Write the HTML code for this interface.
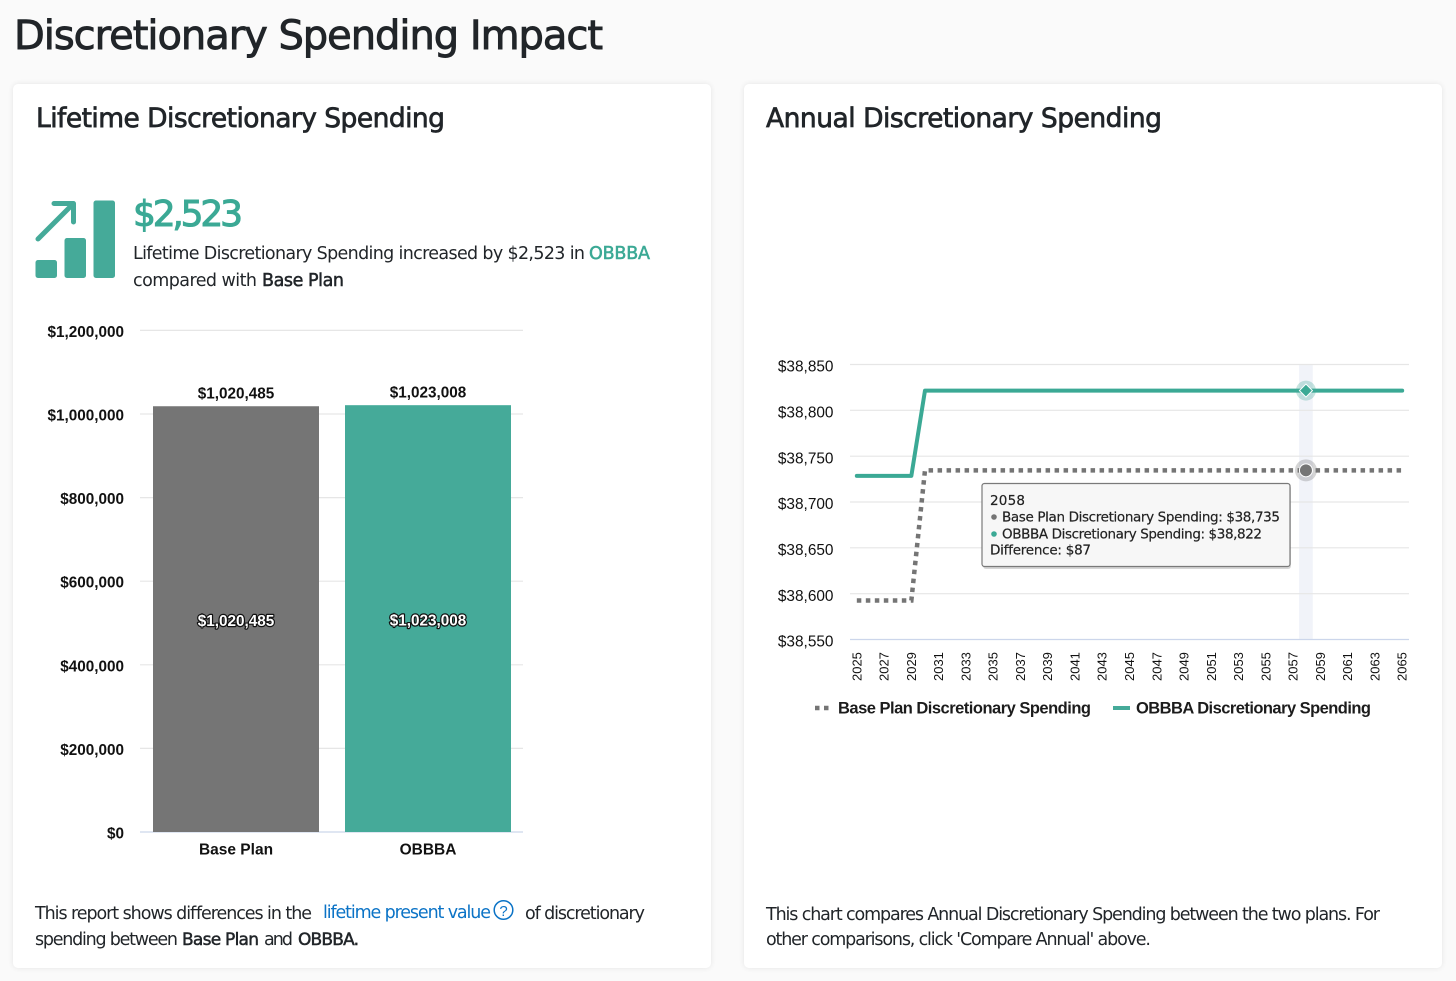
<!DOCTYPE html>
<html lang="en">
<head>
<meta charset="utf-8">
<title>Discretionary Spending Impact</title>
<style>
html,body{margin:0;padding:0;width:1456px;height:981px;overflow:hidden;background:#fafafa}
.card{position:absolute;top:84px;width:698px;height:884px;background:#fff;border-radius:5px;box-shadow:0 0 6px rgba(0,0,0,.09)}
svg{position:absolute;left:0;top:0}
.open{font-family:"DejaVu Sans",sans-serif;fill:#212529}
.semi{stroke-width:.5px;stroke:currentColor;color:#212529}
.arial{font-family:"Liberation Sans",Arial,sans-serif}
</style>
</head>
<body>
<div class="card" style="left:13px"></div>
<div class="card" style="left:744px"></div>
<svg id="page" width="1456" height="981" viewBox="0 0 1456 981" xmlns="http://www.w3.org/2000/svg">
  <text class="open" x="14" y="49" font-size="40" textLength="589" lengthAdjust="spacing" stroke="#212529" stroke-width=".9">Discretionary Spending Impact</text>
  <text class="open" x="36" y="127" font-size="26.5" textLength="409" lengthAdjust="spacing" stroke="#212529" stroke-width=".7">Lifetime Discretionary Spending</text>
  <text class="open" x="766" y="127" font-size="26.5" textLength="396" lengthAdjust="spacing" stroke="#212529" stroke-width=".7">Annual Discretionary Spending</text>

  <g fill="#45aa99">
    <rect x="35.5" y="260" width="21.5" height="18" rx="2.5"/>
    <rect x="64.5" y="238" width="21.5" height="40" rx="2.5"/>
    <rect x="93.5" y="200.500" width="21.5" height="77.500" rx="2.5"/>
    <path d="M38 239L73 204M54 203.500H73.500V222" fill="none" stroke="#45aa99" stroke-width="5" stroke-linecap="round" stroke-linejoin="round"/>
  </g>
  <text x="133" y="226" font-family="DejaVu Sans, sans-serif" font-size="36" fill="#3ba995" stroke="#3ba995" stroke-width="1" textLength="110" lengthAdjust="spacing">$2,523</text>
  <text class="open" x="133" y="259" font-size="17.5" textLength="452" lengthAdjust="spacing">Lifetime Discretionary Spending increased by $2,523 in</text>
  <text x="589" y="259" font-family="DejaVu Sans, sans-serif" font-size="17.5" fill="#3ba995" stroke="#3ba995" stroke-width=".55" textLength="61" lengthAdjust="spacing">OBBBA</text>
  <text class="open" x="133" y="286" font-size="17.5" textLength="124" lengthAdjust="spacing">compared with</text>
  <text class="open semi" x="262" y="286" font-size="17.5" textLength="82" lengthAdjust="spacing">Base Plan</text>

  <g id="left-chart"></g>
  <g id="right-chart"></g>

  <g>
    <g>
      <line x1="815" y1="708" x2="830" y2="708" stroke="#757575" stroke-width="4.500" stroke-dasharray="4.500 4.500"/>
      <text class="arial" x="838" y="713.500" font-size="16.500" font-weight="700" fill="#1c1c1c" textLength="253" lengthAdjust="spacing">Base Plan Discretionary Spending</text>
    </g>
    <g>
      <line x1="1113" y1="708" x2="1130" y2="708" stroke="#45aa99" stroke-width="4"/>
      <text class="arial" x="1136" y="713.500" font-size="16.500" font-weight="700" fill="#1c1c1c" textLength="235" lengthAdjust="spacing">OBBBA Discretionary Spending</text>
    </g>
  </g>

  <text class="open" x="35" y="919" font-size="17.5" textLength="277" lengthAdjust="spacing">This report shows differences in the</text>
  <text x="323" y="918" font-family="DejaVu Sans, sans-serif" font-size="17.5" fill="#0b73c6" textLength="168" lengthAdjust="spacing">lifetime present value</text>
  <g>
    <circle cx="503.500" cy="910" r="9.300" fill="none" stroke="#0b73c6" stroke-width="1.500"/>
    <text x="503.500" y="916" text-anchor="middle" font-family="Liberation Sans, sans-serif" font-size="15" fill="#0b73c6">?</text>
  </g>
  <text class="open" x="525" y="919" font-size="17.5" textLength="120" lengthAdjust="spacing">of discretionary</text>
  <text class="open" x="35" y="945" font-size="17.5" textLength="143" lengthAdjust="spacing">spending between</text>
  <text class="open semi" x="182" y="945" font-size="17" textLength="77" lengthAdjust="spacing">Base Plan</text>
  <text class="open" x="264" y="945" font-size="17.5" textLength="29" lengthAdjust="spacing">and</text>
  <text class="open semi" x="298" y="945" font-size="17" textLength="61" lengthAdjust="spacing">OBBBA.</text>
  <text class="open" x="766" y="920" font-size="17.5" textLength="614" lengthAdjust="spacing">This chart compares Annual Discretionary Spending between the two plans. For</text>
  <text class="open" x="766" y="945" font-size="17.5" textLength="385" lengthAdjust="spacing">other comparisons, click 'Compare Annual' above.</text>
</svg>

<script>
// ---- Bar chart data ----
var barCategories = ['Base Plan', 'OBBBA'];
var barValues = [1020485, 1023008];
var barTicks = [0, 200000, 400000, 600000, 800000, 1000000, 1200000];
var barTickLabels = ['$0', '$200,000', '$400,000', '$600,000', '$800,000', '$1,000,000', '$1,200,000'];
var barValueLabels = ['$1,020,485', '$1,023,008'];

// ---- Line chart data ----
var years = [2025,2026,2027,2028,2029,2030,2031,2032,2033,2034,2035,2036,2037,2038,2039,2040,2041,2042,2043,2044,2045,2046,2047,2048,2049,2050,2051,2052,2053,2054,2055,2056,2057,2058,2059,2060,2061,2062,2063,2064,2065];
var basePlanValues = [38593,38593,38593,38593,38593,38735,38735,38735,38735,38735,38735,38735,38735,38735,38735,38735,38735,38735,38735,38735,38735,38735,38735,38735,38735,38735,38735,38735,38735,38735,38735,38735,38735,38735,38735,38735,38735,38735,38735,38735,38735];
var obbbaValues = [38729,38729,38729,38729,38729,38822,38822,38822,38822,38822,38822,38822,38822,38822,38822,38822,38822,38822,38822,38822,38822,38822,38822,38822,38822,38822,38822,38822,38822,38822,38822,38822,38822,38822,38822,38822,38822,38822,38822,38822,38822];
var lineTicks = [38550, 38600, 38650, 38700, 38750, 38800, 38850];
var lineTickLabels = ['$38,550', '$38,600', '$38,650', '$38,700', '$38,750', '$38,800', '$38,850'];
var xTickYears = [2025,2027,2029,2031,2033,2035,2037,2039,2041,2043,2045,2047,2049,2051,2053,2055,2057,2059,2061,2063,2065];
var hoverYear = 2058;

var SVGNS = 'http://www.w3.org/2000/svg';
function make(parent, tag, attrs, txt) {
  var el = document.createElementNS(SVGNS, tag);
  for (var k in attrs) el.setAttribute(k, attrs[k]);
  if (txt !== undefined) el.textContent = txt;
  parent.appendChild(el);
  return el;
}
function money(v) { return '$' + String(v).replace(/\B(?=(\d{3})+$)/g, ','); }

// ---- Bar chart ----
(function () {
  var g = document.getElementById('left-chart');
  var plotL = 140, plotR = 523, y0 = 832, pxPerUnit = 418 / 1000000;
  var sans = '"Liberation Sans", Arial, sans-serif';
  function yScale(v) { return y0 - v * pxPerUnit; }
  var bandW = 192;
  var firstBand = 140;
  barTicks.forEach(function (t, i) {
    var y = yScale(t);
    var line = make(g, 'line', {x1: plotL, x2: plotR, y1: y, y2: y, stroke: t === 0 ? '#ccd6eb' : '#e6e6e6', 'stroke-width': 1.2});
    
    
    var lab = make(g, 'text', {x: 124, y: y + 6.5, 'text-anchor': 'end', 'font-family': sans, 'font-size': 15.3, 'font-weight': 700, fill: '#111'}, barTickLabels[i]);
    
    
  });
  var colors = ['#757575', '#45aa99'];
  barValues.forEach(function (v, i) {
    var cx = firstBand + bandW * i + 96;
    var top = yScale(v) + 0.8;
    var bar = make(g, 'rect', {x: cx - 83, y: top, width: 166, height: y0 - top, fill: colors[i]});
    
    
    var above = make(g, 'text', {x: cx, y: top - 7.5, 'text-anchor': 'middle', 'font-family': sans, 'font-size': 15.3, 'font-weight': 700, fill: '#111'}, barValueLabels[i]);
    
    
    var inner = make(g, 'text', {x: cx, y: (top + y0) / 2 + 7, 'text-anchor': 'middle', 'font-family': sans, 'font-size': 15.3, 'font-weight': 700, fill: '#fff', stroke: '#111', 'stroke-width': 2.4, 'paint-order': 'stroke', 'stroke-linejoin': 'round'}, barValueLabels[i]);
    
    
    var cat = make(g, 'text', {x: cx, y: 854.5, 'text-anchor': 'middle', 'font-family': sans, 'font-size': 15.5, 'font-weight': 700, fill: '#111'}, barCategories[i]);
    
    
  });
})();

// ---- Line chart ----
(function () {
  var g = document.getElementById('right-chart');
  var plotL = 850, plotR = 1409, yBottom = 639.5, yTop = 364.5;
  var sans = '"Liberation Sans", Arial, sans-serif';
  var open = '"DejaVu Sans", sans-serif';
  var minV = lineTicks[0], maxV = lineTicks[lineTicks.length - 1];
  var firstYear = years[0], lastYear = years[years.length - 1];
  var band = (plotR - plotL) / (lastYear - firstYear + 1);
  function xScale(yr) { return plotL + band * (yr - firstYear + 0.5); }
  function yScale(v) { return yBottom - (v - minV) / (maxV - minV) * (yBottom - yTop); }

  var hx = xScale(hoverYear) - 0.8;
  var crosshair = make(g, 'rect', {x: hx - band / 2, y: yTop, width: band, height: yBottom - yTop, fill: '#f1f3f9'});
  
  

  lineTicks.forEach(function (t, i) {
    var y = yScale(t);
    var line = make(g, 'line', {x1: plotL, x2: plotR, y1: y, y2: y, stroke: t === minV ? '#ccd6eb' : '#e6e6e6', 'stroke-width': 1.2});
    
    
    var lab = make(g, 'text', {x: 833.5, y: y + 7.2, 'text-anchor': 'end', 'font-family': sans, 'font-size': 15.4, fill: '#111'}, lineTickLabels[i]);
    
    
  });

  xTickYears.forEach(function (yr) {
    var x = xScale(yr) + 4.5;
    var lab = make(g, 'text', {x: x, y: 681, 'text-anchor': 'start', 'font-family': sans, 'font-size': 13, fill: '#111', transform: 'rotate(-90 ' + x + ' 681)'}, String(yr));
    
    
  });

  function pathFor(vals) {
    return vals.map(function (v, i) { return (i ? 'L' : 'M') + xScale(years[i]) + ' ' + (yScale(v) + 0.4); }).join('');
  }
  var basePath = make(g, 'path', {d: pathFor(basePlanValues), fill: 'none', stroke: '#757575', 'stroke-width': 4.5, 'stroke-dasharray': '4.5 4.5'});
  
  
  var obbbaPath = make(g, 'path', {d: pathFor(obbbaValues), fill: 'none', stroke: '#3ba995', 'stroke-width': 4, 'stroke-linecap': 'round', 'stroke-linejoin': 'round'});
  
  

  var idx = years.indexOf(hoverYear);
  var by = yScale(basePlanValues[idx]) + 0.4, oy = yScale(obbbaValues[idx]) + 0.4;
  var baseHalo = make(g, 'circle', {cx: hx, cy: by, r: 11, fill: 'rgba(117,117,117,.3)'});
  
  
  var baseMark = make(g, 'circle', {cx: hx, cy: by, r: 6.5, fill: '#757575', stroke: '#fff', 'stroke-width': 1});
  
  
  var obbbaHalo = make(g, 'circle', {cx: hx, cy: oy, r: 10, fill: 'rgba(69,170,153,.3)'});
  
  
  var d = 6.5;
  var obbbaMark = make(g, 'path', {d: 'M' + hx + ' ' + (oy - d) + 'L' + (hx + d) + ' ' + oy + 'L' + hx + ' ' + (oy + d) + 'L' + (hx - d) + ' ' + oy + 'Z', fill: '#3ba995', stroke: '#fff', 'stroke-width': 1});
  
  

  // Tooltip
  var tip = make(g, 'g', {});
  
  
  var shadow = make(tip, 'rect', {x: 983, y: 485, width: 308, height: 84, rx: 3, fill: 'rgba(0,0,0,.16)'});
  
  
  var box = make(tip, 'rect', {x: 982, y: 483.5, width: 308, height: 83, rx: 2.5, fill: '#f7f7f7', stroke: '#7a7a7a', 'stroke-width': 1.2});
  
  
  var txtBase = {'font-family': open, 'font-size': 13.5, fill: '#222', stroke: '#222', 'stroke-width': 0.2, lengthAdjust: 'spacing'};
  function tipText(x, y, len, s, name) {
    var attrs = {x: x, y: y, textLength: len};
    for (var k in txtBase) attrs[k] = txtBase[k];
    var t = make(tip, 'text', attrs, s);
    
    
  }
  tipText(990, 505, 35, String(hoverYear), 'tooltip-year');
  var dotA = make(tip, 'circle', {cx: 994, cy: 517, r: 2.8, fill: '#757575'});
  
  
  tipText(1002, 521.5, 278, 'Base Plan Discretionary Spending: ' + money(basePlanValues[idx]), 'tooltip-base-plan-value');
  var dotB = make(tip, 'circle', {cx: 994, cy: 534, r: 2.8, fill: '#3ba995'});
  
  
  tipText(1002, 538.5, 260, 'OBBBA Discretionary Spending: ' + money(obbbaValues[idx]), 'tooltip-obbba-value');
  tipText(990, 554.5, 101, 'Difference: ' + money(obbbaValues[idx] - basePlanValues[idx]), 'tooltip-difference');
})();
</script>
</body>
</html>
